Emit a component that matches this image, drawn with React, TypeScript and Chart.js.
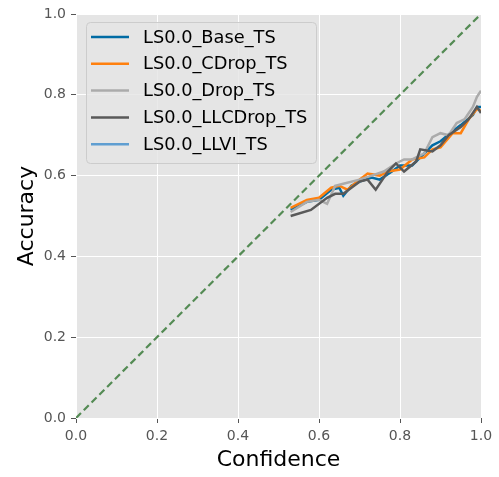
import React, { useEffect, useRef } from "react";
import { Chart, registerables } from "chart.js";

Chart.register(...registerables);

const seriesNames = ["LS0.0_Base_TS", "LS0.0_CDrop_TS", "LS0.0_Drop_TS", "LS0.0_LLCDrop_TS", "LS0.0_LLVI_TS"];
const seriesColors = ["#006BA4", "#FF800E", "#ABABAB", "#595959", "#5F9ED1"];

const baseX = [0.53, 0.57, 0.6, 0.63, 0.65, 0.66, 0.68, 0.7, 0.73, 0.75, 0.78, 0.8, 0.83, 0.86, 0.88, 0.9, 0.93, 0.95, 0.98, 0.99, 1.0];
const baseY = [0.515, 0.535, 0.54, 0.565, 0.57, 0.55, 0.575, 0.585, 0.595, 0.59, 0.61, 0.625, 0.625, 0.655, 0.675, 0.685, 0.71, 0.725, 0.75, 0.77, 0.77];

const cdropX = [0.53, 0.57, 0.6, 0.63, 0.65, 0.67, 0.7, 0.72, 0.75, 0.77, 0.8, 0.83, 0.86, 0.88, 0.9, 0.93, 0.95, 0.97, 0.99, 1.0];
const cdropY = [0.52, 0.54, 0.545, 0.57, 0.575, 0.565, 0.59, 0.605, 0.6, 0.61, 0.615, 0.64, 0.645, 0.665, 0.67, 0.705, 0.705, 0.74, 0.765, 0.76];

const dropX = [0.53, 0.57, 0.6, 0.62, 0.64, 0.66, 0.7, 0.73, 0.76, 0.79, 0.81, 0.83, 0.86, 0.88, 0.9, 0.92, 0.94, 0.96, 0.98, 0.99, 1.0];
const dropY = [0.51, 0.535, 0.54, 0.53, 0.575, 0.58, 0.59, 0.6, 0.61, 0.63, 0.64, 0.64, 0.655, 0.695, 0.705, 0.7, 0.73, 0.74, 0.77, 0.795, 0.81];

const llcdropX = [0.53, 0.58, 0.62, 0.64, 0.66, 0.7, 0.72, 0.74, 0.77, 0.79, 0.81, 0.84, 0.85, 0.88, 0.9, 0.92, 0.95, 0.97, 0.99, 1.0];
const llcdropY = [0.5, 0.515, 0.545, 0.555, 0.555, 0.585, 0.59, 0.565, 0.61, 0.63, 0.61, 0.635, 0.665, 0.66, 0.675, 0.7, 0.72, 0.74, 0.77, 0.755];

const llviX: number[] = [];
const llviY: number[] = [];

const diagX = [0, 1];
const diagY = [0, 1];

const tickValues = [0, 0.2, 0.4, 0.6, 0.8, 1.0];

const zip = (xs: number[], ys: number[]) => xs.map((x, i) => ({ x, y: ys[i] }));

export default function App() {
  const ref = useRef<HTMLCanvasElement | null>(null);
  useEffect(() => {
    document.body.style.margin = "0";
    const seriesData = [zip(baseX, baseY), zip(cdropX, cdropY), zip(dropX, dropY), zip(llcdropX, llcdropY), zip(llviX, llviY)];
    const datasets: any[] = seriesNames.map((name, i) => ({
      label: name,
      data: seriesData[i],
      borderColor: seriesColors[i],
      backgroundColor: seriesColors[i],
      borderWidth: 2.5,
      pointRadius: 0,
      fill: false,
      tension: 0,
      order: 10 - i,
    }));
    datasets.push({
      label: "diag",
      data: zip(diagX, diagY),
      borderColor: "#548b54",
      borderWidth: 2.2,
      borderDash: [7, 4],
      pointRadius: 0,
      fill: false,
      order: 20,
    });

    const bgPlugin = {
      id: "bg",
      beforeDraw(chart: any) {
        const { ctx, chartArea: a } = chart;
        ctx.save();
        ctx.fillStyle = "#E5E5E5";
        ctx.fillRect(a.left, a.top, a.right - a.left, a.bottom - a.top);
        ctx.restore();
      },
    };

    const legendPlugin = {
      id: "mplLegend",
      afterDatasetsDraw(chart: any) {
        const { ctx, chartArea: a } = chart;
        const x0 = a.left + 10;
        const y0 = a.top + 8;
        const w = 230;
        const h = 141;
        ctx.save();
        ctx.beginPath();
        if ((ctx as any).roundRect) (ctx as any).roundRect(x0 + 0.5, y0 + 0.5, w, h, 4);
        else ctx.rect(x0 + 0.5, y0 + 0.5, w, h);
        ctx.fillStyle = "rgba(229,229,229,0.8)";
        ctx.fill();
        ctx.strokeStyle = "#cccccc";
        ctx.lineWidth = 1;
        ctx.stroke();
        ctx.font = "17.8px 'DejaVu Sans'";
        ctx.textBaseline = "middle";
        seriesNames.forEach((name, i) => {
          const cy = y0 + 15 + i * 26.8;
          ctx.beginPath();
          ctx.strokeStyle = seriesColors[i];
          ctx.lineWidth = 2.5;
          ctx.moveTo(x0 + 5, cy);
          ctx.lineTo(x0 + 43, cy);
          ctx.stroke();
          ctx.fillStyle = "#000000";
          ctx.fillText(name, x0 + 57, cy + 1);
        });
        ctx.restore();
      },
    };

    const axisCommon = (title: string, pad: any) => ({
      type: "linear" as const,
      min: 0,
      max: 1,
      afterBuildTicks: (scale: any) => {
        scale.ticks = tickValues.map((v) => ({ value: v }));
      },
      ticks: {
        callback: (v: any) => Number(v).toFixed(1),
        color: "#555555",
        font: { family: "DejaVu Sans", size: 14 },
        autoSkip: false,
        maxRotation: 0,
      },
      grid: { color: "#ffffff", lineWidth: 1, tickColor: "#555555", tickLength: 5, tickWidth: 1 },
      border: { display: false },
      title: { display: true, text: title, color: "#000000", font: { family: "DejaVu Sans", size: 22 }, padding: pad },
    });

    const xAxis: any = axisCommon("Confidence", { top: 0, bottom: 4 });
    xAxis.ticks.padding = 5;
    xAxis.afterFit = (s: any) => { s.height = 59; };
    const yAxis: any = axisCommon("Accuracy", { top: 14, bottom: 0 });
    yAxis.ticks.padding = 5;
    yAxis.afterFit = (s: any) => { s.width = 76; };

    const chart = new Chart(ref.current!, {
      type: "line",
      data: { datasets },
      options: {
        animation: false,
        responsive: false,
        parsing: false as any,
        layout: { padding: { top: 14, right: 18, left: 0, bottom: 0 } },
        plugins: { legend: { display: false }, tooltip: { enabled: false } },
        scales: { x: xAxis, y: yAxis },
      },
      plugins: [bgPlugin, legendPlugin],
    });
    return () => chart.destroy();
  }, []);
  return (
    <div style={{ width: 499, height: 477 }}>
      <canvas ref={ref} width={499} height={477} />
    </div>
  );
}
